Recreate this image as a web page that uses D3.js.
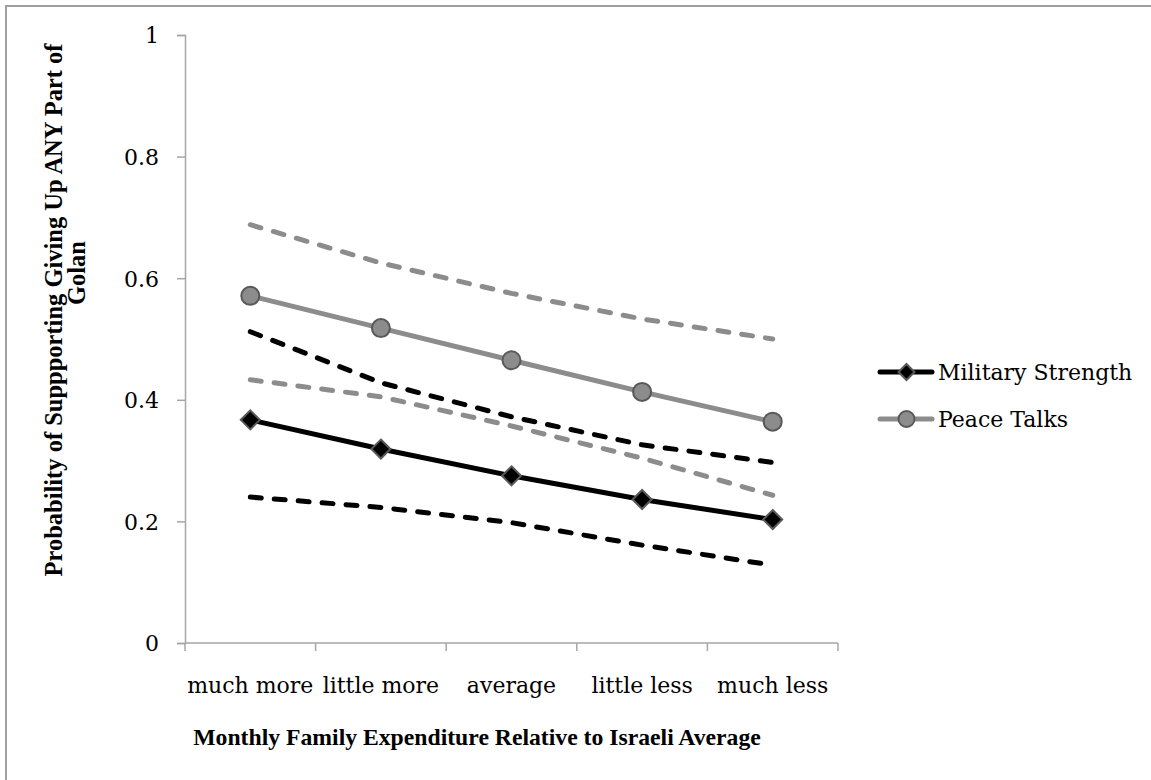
<!DOCTYPE html>
<html>
<head>
<meta charset="utf-8">
<script src="https://cdn.jsdelivr.net/npm/d3@7"></script>
<style>
  html, body { margin: 0; padding: 0; background: #fff; }
  svg { display: block; }
  text { font-family: "DejaVu Serif", "Liberation Serif", serif; fill: #000; }
</style>
</head>
<body>
<svg id="chart" width="1151" height="780"></svg>
<script>
// Predicted probabilities with confidence bounds, by spending level
const categories = ["much more", "little more", "average", "little less", "much less"];
const military   = [0.367, 0.319, 0.275, 0.236, 0.203];
const militaryHi = [0.512, 0.428, 0.372, 0.326, 0.297];
const militaryLo = [0.240, 0.223, 0.198, 0.161, 0.128];
const peace      = [0.571, 0.518, 0.465, 0.413, 0.364];
const peaceHi    = [0.688, 0.625, 0.575, 0.533, 0.500];
const peaceLo    = [0.433, 0.405, 0.357, 0.304, 0.243];
const yTicks     = [0, 0.2, 0.4, 0.6, 0.8, 1];
const seriesNames = ["Military Strength", "Peace Talks"];

const svg = d3.select("#chart");
const BLACK = "#000000", GRAY = "#8c8c8c", AXIS = "#a6a6a6", EDGE = "#595959";
const TITLE_FONT = "'Liberation Serif', serif";

// outer frame
svg.append("rect")
  .attr("x", 6).attr("y", 6).attr("width", 1160).attr("height", 790)
  .attr("fill", "none").attr("stroke", "#a0a0a0").attr("stroke-width", 2);

const x = d3.scaleBand().domain(categories).range([185, 838]).padding(0);
const cx = c => x(c) + x.bandwidth() / 2;
const y = d3.scaleLinear().domain([0, 1]).range([643, 35]);

// y axis
const yAxis = svg.append("g").attr("transform", "translate(185,0)")
  .call(d3.axisLeft(y).tickValues(yTicks).tickSize(8).tickPadding(18)
        .tickFormat(d => String(+d.toFixed(1))));
yAxis.select(".domain").attr("stroke", AXIS).attr("stroke-width", 1.5);
yAxis.selectAll(".tick line").attr("stroke", AXIS).attr("stroke-width", 1.5);
yAxis.selectAll(".tick text").attr("font-size", 22).attr("dy", "0.36em")
  .style("font-family", "'DejaVu Serif', serif");

// x axis: labels centred on bands, ticks at band edges
const xAxis = svg.append("g").attr("transform", "translate(0,643)")
  .call(d3.axisBottom(x).tickSize(0).tickPadding(0));
xAxis.select(".domain").remove();
xAxis.selectAll(".tick text").attr("font-size", 22).attr("y", 50).attr("dy", 0)
  .style("font-family", "'DejaVu Serif', serif");
const edges = categories.map(c => x(c)).concat([x.range()[1]]);
xAxis.append("line").attr("x1", 185).attr("x2", 838).attr("y1", 0).attr("y2", 0)
  .attr("stroke", AXIS).attr("stroke-width", 1.5);
xAxis.selectAll("line.edge").data(edges).join("line").attr("class", "edge")
  .attr("x1", d => d).attr("x2", d => d).attr("y1", 0).attr("y2", 8)
  .attr("stroke", AXIS).attr("stroke-width", 1.5);

// axis titles
svg.append("text").attr("x", 477).attr("y", 745).attr("text-anchor", "middle")
  .attr("font-size", 23.7).attr("font-weight", "bold")
  .style("font-family", TITLE_FONT)
  .text("Monthly Family Expenditure Relative to Israeli Average");
svg.append("text").attr("transform", "translate(62,310) rotate(-90)")
  .attr("text-anchor", "middle").attr("font-size", 24.5).attr("font-weight", "bold")
  .style("font-family", TITLE_FONT)
  .text("Probability of Suppporting Giving Up ANY Part of");
svg.append("text").attr("transform", "translate(85,273) rotate(-90)")
  .attr("text-anchor", "middle").attr("font-size", 24.5).attr("font-weight", "bold")
  .style("font-family", TITLE_FONT)
  .text("Golan");

const line = d3.line().x((d, i) => cx(categories[i])).y(d => y(d));
const plot = svg.append("g");

function dashed(vals, color) {
  plot.append("path").datum(vals).attr("d", line)
    .attr("fill", "none").attr("stroke", color).attr("stroke-width", 5)
    .attr("stroke-dasharray", "11,13").attr("stroke-linecap", "round");
}
dashed(peaceHi, GRAY);
dashed(peaceLo, GRAY);
dashed(militaryHi, BLACK);
dashed(militaryLo, BLACK);

function solid(vals, color) {
  plot.append("path").datum(vals).attr("d", line)
    .attr("fill", "none").attr("stroke", color).attr("stroke-width", 5);
}
solid(peace, GRAY);
solid(military, BLACK);

const diamond = (px, py, r) => `M${px},${py - r}L${px + r},${py}L${px},${py + r}L${px - r},${py}Z`;

plot.selectAll("circle.pt").data(peace).join("circle").attr("class", "pt")
  .attr("cx", (d, i) => cx(categories[i])).attr("cy", d => y(d)).attr("r", 9)
  .attr("fill", GRAY).attr("stroke", EDGE).attr("stroke-width", 2);
plot.selectAll("path.dm").data(military).join("path").attr("class", "dm")
  .attr("d", (d, i) => diamond(cx(categories[i]), y(d), 9.5))
  .attr("fill", BLACK).attr("stroke", EDGE).attr("stroke-width", 2);

// legend
const lg = svg.append("g");
const rows = [
  { name: seriesNames[0], color: BLACK, ty: 372 },
  { name: seriesNames[1], color: GRAY, ty: 419 }
];
rows.forEach((r, k) => {
  lg.append("line").attr("x1", 880).attr("x2", 932).attr("y1", r.ty).attr("y2", r.ty)
    .attr("stroke", r.color).attr("stroke-width", 5).attr("stroke-linecap", "round");
  if (k === 0) {
    lg.append("path").attr("d", diamond(906.5, r.ty, 8))
      .attr("fill", BLACK).attr("stroke", EDGE).attr("stroke-width", 2);
  } else {
    lg.append("circle").attr("cx", 906.5).attr("cy", r.ty).attr("r", 8)
      .attr("fill", GRAY).attr("stroke", EDGE).attr("stroke-width", 2);
  }
  lg.append("text").attr("x", 938).attr("y", r.ty).attr("dy", "0.35em")
    .attr("font-size", 22).text(r.name);
});
</script>
</body>
</html>
